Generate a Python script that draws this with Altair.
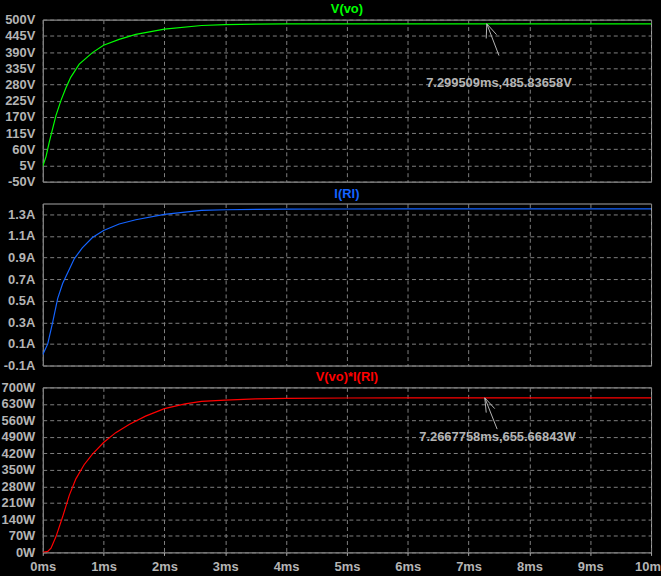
import altair as alt
import pandas as pd

# ---- data ----
t_v = [0, 0.054, 0.109, 0.163, 0.218, 0.30, 0.38, 0.46, 0.60, 0.817, 1.0, 1.256, 1.53, 2.0, 2.61,
       3.0, 3.5, 4.0, 5.0, 6.0, 7.0, 8.0, 9.0, 10.0]
v_vo = [2, 35, 86, 130, 175, 226, 268, 304, 349, 388, 413, 433, 450, 468, 480,
        483, 484.6, 485.3, 485.7, 485.8, 485.83, 485.84, 485.84, 485.84]

t_i = [0, 0.082, 0.163, 0.245, 0.327, 0.41, 0.52, 0.65, 0.817, 1.0, 1.256, 1.53, 2.0, 2.34, 2.61,
       3.0, 3.5, 4.0, 5.0, 6.0, 7.0, 8.0, 9.0, 10.0]
i_rl = [0.0, 0.10, 0.30, 0.52, 0.66, 0.76, 0.89, 0.99, 1.085, 1.15, 1.21, 1.25, 1.30, 1.32, 1.337,
        1.342, 1.346, 1.348, 1.349, 1.3495, 1.3496, 1.3496, 1.3496, 1.3496]

t_p = [0, 0.082, 0.136, 0.218, 0.327, 0.436, 0.545, 0.68, 0.817, 1.0, 1.2, 1.42, 1.69, 2.0, 2.34, 2.61,
       3.0, 3.5, 4.0, 5.0, 6.0, 7.0, 8.0, 9.0, 10.0]
p_w = [0, 4, 18, 67, 151, 242, 312, 372, 417, 466, 508, 543, 578, 610, 630, 641,
       646, 651, 653.5, 655, 655.5, 655.67, 655.67, 655.67, 655.67]

x_ticks = [0, 1, 2, 3, 4, 5, 6, 7, 8, 9, 10]
v_ticks = [-50, 5, 60, 115, 170, 225, 280, 335, 390, 445, 500]
i_ticks = [-0.1, 0.1, 0.3, 0.5, 0.7, 0.9, 1.1, 1.3]
p_ticks = [0, 70, 140, 210, 280, 350, 420, 490, 560, 630, 700]

# cursor annotations
v_cursor = dict(t=7.299509, y=485.83658, tt=7.50, ty=378, h1t=7.29, h1y=436, h2t=7.46, h2y=449,
                lt=7.50, ly=284, text="7.299509ms,485.83658V")
p_cursor = dict(t=7.2667758, y=655.66843, tt=7.47, ty=523, h1t=7.29, h1y=593, h2t=7.43, h2y=610,
                lt=7.475, ly=489, text="7.2667758ms,655.66843W")

GRID = "#808080"
LABEL = "#b4b4b4"
BORDER = "#a8a8a8"
FONT = "Liberation Sans"


def panel(t, y, color, title, domain, ticks, unit, height, bottom, toff, cursor=None):
    df = pd.DataFrame({"t": t, "y": y})
    xaxis = alt.Axis(values=x_ticks, grid=True, gridColor=GRID, gridDash=[4, 3], domain=False,
                     ticks=bottom, tickColor=BORDER, tickSize=3, labels=bottom,
                     labelExpr="datum.value + 'ms'", labelColor=LABEL, labelFont=FONT,
                     labelFontSize=13, labelFontWeight="bold", labelPadding=5, title=None,
                     minExtent=0, labelFlush=False, labelOverlap=False)
    yaxis = alt.Axis(values=ticks, grid=True, gridColor=GRID, gridDash=[4, 3], domain=False,
                     ticks=False, labelExpr="datum.value + '" + unit + "'", labelColor=LABEL,
                     labelFont=FONT, labelFontSize=13, labelFontWeight="bold", labelPadding=8,
                     title=None, minExtent=40, maxExtent=40, labelOverlap=False)
    xs = alt.Scale(domain=[0, 10], nice=False, zero=False)
    ys = alt.Scale(domain=domain, nice=False, zero=False)
    line = alt.Chart(df).mark_line(color=color, strokeWidth=1.2, clip=True).encode(
        x=alt.X("t:Q", scale=xs, axis=xaxis), y=alt.Y("y:Q", scale=ys, axis=yaxis))
    layers = [line]
    if cursor is not None:
        c = cursor
        adf = pd.DataFrame({
            "t": [c["t"], c["t"], c["t"]],
            "y": [c["y"], c["y"], c["y"]],
            "t2": [c["tt"], c["h1t"], c["h2t"]],
            "y2": [c["ty"], c["h1y"], c["h2y"]],
        })
        arrows = alt.Chart(adf).mark_rule(color=LABEL, strokeWidth=1).encode(
            x=alt.X("t:Q", scale=xs, axis=xaxis), y=alt.Y("y:Q", scale=ys, axis=yaxis),
            x2="t2:Q", y2="y2:Q")
        tdf = pd.DataFrame({"t": [c["lt"]], "y": [c["ly"]], "label": [c["text"]]})
        txt = alt.Chart(tdf).mark_text(color=LABEL, font=FONT, fontSize=13, fontWeight="bold",
                                       align="center", baseline="middle").encode(
            x=alt.X("t:Q", scale=xs, axis=xaxis), y=alt.Y("y:Q", scale=ys, axis=yaxis),
            text="label:N")
        layers += [arrows, txt]
    return alt.layer(*layers).properties(
        width=612, height=height,
        title=alt.TitleParams(title, color=color, font=FONT, fontSize=13, fontWeight="bold",
                              anchor="middle", frame="group", offset=toff))


p1 = panel(t_v, v_vo, "#00ff00", "V(vo)", [-50, 500], v_ticks, "V", 163, False, -2, v_cursor)
p2 = panel(t_i, i_rl, "#1464ff", "I(RI)", [-0.1, 1.4], i_ticks, "A", 163, False, 3)
p3 = panel(t_p, p_w, "#ff0000", "V(vo)*I(RI)", [0, 700], p_ticks, "W", 166, True, -3, p_cursor)

chart = alt.vconcat(p1, p2, p3, spacing=22, bounds="flush").properties(
    background="black",
    padding={"left": 0, "top": 0, "right": -8, "bottom": 0},
).configure_view(stroke=BORDER, strokeWidth=1, fill="black")

chart.save("out.html", embed_options={"renderer": "svg", "actions": False})
